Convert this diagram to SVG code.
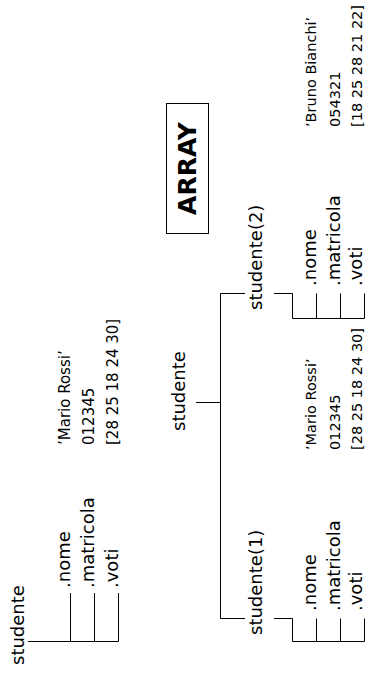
<svg xmlns="http://www.w3.org/2000/svg" width="365" height="679" viewBox="0 0 365 679">
<style>
.t{font-family:"DejaVu Sans",sans-serif;font-size:18px;fill:#000}
.v{font-family:"DejaVu Sans",sans-serif;font-size:15px;fill:#000}
.w{font-family:"DejaVu Sans",sans-serif;font-size:14.5px;fill:#000}
.b{font-family:"DejaVu Sans",sans-serif;font-size:25px;font-weight:bold;fill:#000}
.l{stroke:#000;stroke-width:1;fill:none}
</style>
<rect width="365" height="679" fill="#fff"/>
<g id="connectors" class="l">
<path d="M28,641.5H118.5M70.5,593V641.5M94.5,593V641.5M118.5,593V641.5"/>
<path d="M196,402.5H220.5M220.5,293.5V618.5"/>
<path d="M220.5,293.5H245M274,293.5H292.5V318.5H364.5M316.5,293.5V318.5M340.5,293.5V318.5M364.5,293.5V318.5"/>
<path d="M220.5,618.5H245M274,618.5H292.5V641.5H364.5M316.5,618.5V641.5M340.5,618.5V641.5M364.5,618.5V641.5"/>
</g>
<g id="single">
<text class="t" transform="translate(24,665) rotate(-90)">studente</text>
<text class="t" transform="translate(70,588) rotate(-90)">.nome</text>
<text class="t" transform="translate(94,588) rotate(-90)">.matricola</text>
<text class="t" transform="translate(118,588) rotate(-90)">.voti</text>
<text class="v" transform="translate(70,445) rotate(-90)">’Mario Rossi’</text>
<text class="v" transform="translate(94,445) rotate(-90)">012345</text>
<text class="v" transform="translate(118,445) rotate(-90)">[28 25 18 24 30]</text>
</g>
<g id="array">
<rect x="166.5" y="103.5" width="42" height="130" class="l"/>
<text class="b" text-anchor="middle" transform="translate(196,168.5) rotate(-90)">ARRAY</text>
</g>
<g id="root">
<text class="t" transform="translate(185,431) rotate(-90)">studente</text>
</g>
<g id="s1">
<text class="t" transform="translate(262,635) rotate(-90)">studente(1)</text>
<text class="t" transform="translate(316,611) rotate(-90)">.nome</text>
<text class="t" transform="translate(340,611) rotate(-90)">.matricola</text>
<text class="t" transform="translate(362,611) rotate(-90)">.voti</text>
<text class="w" transform="translate(316,450) rotate(-90)">’Mario Rossi’</text>
<text class="w" transform="translate(340,450) rotate(-90)">012345</text>
<text class="w" transform="translate(362,450) rotate(-90)">[28 25 18 24 30]</text>
</g>
<g id="s2">
<text class="t" transform="translate(262,310) rotate(-90)">studente(2)</text>
<text class="t" transform="translate(316,286) rotate(-90)">.nome</text>
<text class="t" transform="translate(340,286) rotate(-90)">.matricola</text>
<text class="t" transform="translate(362,286) rotate(-90)">.voti</text>
<text class="w" transform="translate(316,127) rotate(-90)">’Bruno Bianchi’</text>
<text class="w" transform="translate(340,127) rotate(-90)">054321</text>
<text class="w" transform="translate(362,127) rotate(-90)">[18 25 28 21 22]</text>
</g>
</svg>
